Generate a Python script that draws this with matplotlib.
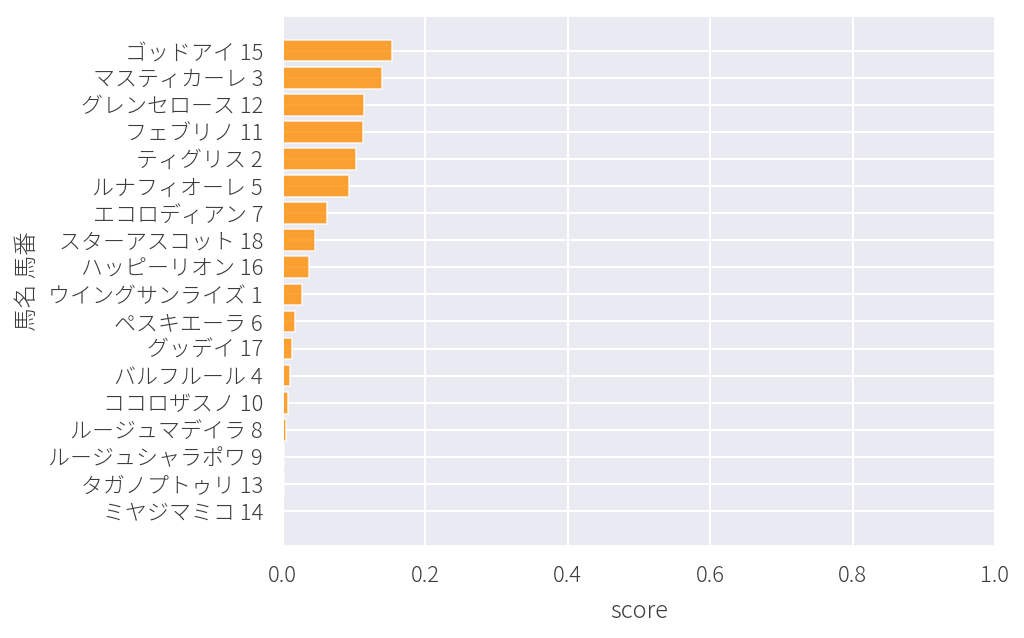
import matplotlib
matplotlib.use("Agg")
import matplotlib.pyplot as plt
import seaborn as sns

names = ["ゴッドアイ 15", "マスティカーレ 3", "グレンセロース 12", "フェブリノ 11",
         "ティグリス 2", "ルナフィオーレ 5", "エコロディアン 7", "スターアスコット 18",
         "ハッピーリオン 16", "ウイングサンライズ 1", "ペスキエーラ 6", "グッデイ 17",
         "バルフルール 4", "ココロザスノ 10", "ルージュマデイラ 8", "ルージュシャラポワ 9",
         "タガノプトゥリ 13", "ミヤジマミコ 14"]
scores = [0.154, 0.140, 0.115, 0.113, 0.103, 0.094, 0.063, 0.046, 0.037,
          0.027, 0.018, 0.013, 0.011, 0.008, 0.005, 0.002, 0.0015, 0.0008]
xticks = [0.0, 0.2, 0.4, 0.6, 0.8, 1.0]

sns.set_theme(style="darkgrid")
plt.rcParams['font.family'] = ['Noto Sans CJK JP', 'DejaVu Sans']
plt.rcParams['font.weight'] = 'light'

fig = plt.figure(figsize=(10.24, 6.38), dpi=100)
ax = fig.add_axes([282.5 / 1024, 1 - 546 / 638, (995 - 282.5) / 1024, (546 - 15.7) / 638])

ypos = list(range(len(names)))
ax.barh(ypos, scores, height=0.8, color='darkorange', alpha=0.8,
        edgecolor='white', linewidth=1.2)
ax.set_yticks(ypos)
ax.set_yticklabels(names, fontsize=15.8, fontweight='light', color='#3c3c3c')
ax.invert_yaxis()
ax.set_xlim(0, 1.0)
ax.set_xticks(xticks)
ax.set_xticklabels([f"{t:.1f}" for t in xticks], fontsize=15.8, fontweight='light', color='#3c3c3c')
ax.tick_params(axis='both', length=0, pad=14)
ax.set_xlabel("score", fontsize=17, fontweight='light', color='#3c3c3c', labelpad=8)
ax.set_ylabel("馬名 馬番", fontsize=17, fontweight='light', color='#3c3c3c', labelpad=6)
ax.grid(True, color='white', linewidth=1.5)

fig.savefig("out.png", dpi=100)
